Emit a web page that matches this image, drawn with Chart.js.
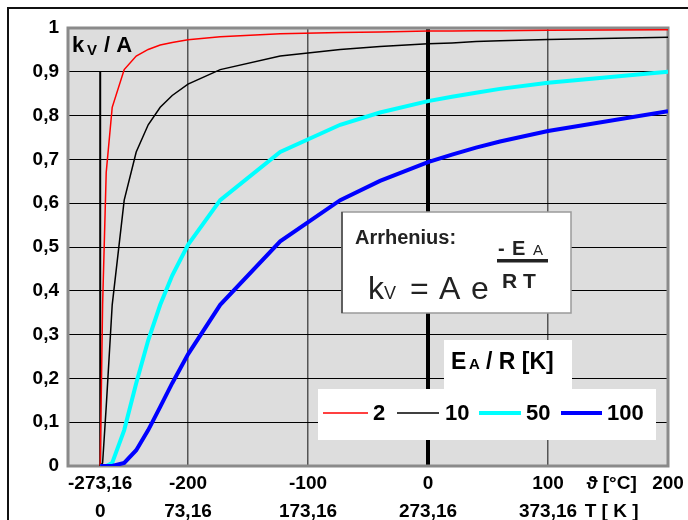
<!DOCTYPE html>
<html>
<head>
<meta charset="utf-8">
<script src="https://cdn.jsdelivr.net/npm/chart.js@4/dist/chart.umd.min.js"></script>
<style>
  html, body { margin: 0; padding: 0; background: #fff; overflow: hidden; }
  canvas { display: block; }
</style>
</head>
<body>
<canvas id="myChart" width="688" height="520"></canvas>
<script>
// temperature in °C of each computed point (T = 0 K ... 473,16 K)
const tempC = [-273.16, -271.16, -268.16, -263.16, -253.16, -243.16, -233.16, -223.16, -213.16, -200,
  -173.16, -123.16, -73.16, -40, 0, 20, 40, 60, 100, 200];

const ea2 = [0, 0.368, 0.67, 0.819, 0.905, 0.936, 0.951, 0.961, 0.967, 0.973,
  0.98, 0.987, 0.99, 0.991, 0.993, 0.993, 0.994, 0.994, 0.995, 0.996];
const ea10 = [0, 0.007, 0.135, 0.368, 0.607, 0.717, 0.779, 0.819, 0.846, 0.872,
  0.905, 0.936, 0.951, 0.958, 0.964, 0.966, 0.969, 0.971, 0.974, 0.979];
const ea50 = [0, 0, 0, 0.007, 0.082, 0.189, 0.287, 0.368, 0.435, 0.505,
  0.607, 0.717, 0.779, 0.807, 0.833, 0.843, 0.852, 0.861, 0.875, 0.9];
const ea100 = [0, 0, 0, 0, 0.007, 0.036, 0.082, 0.135, 0.189, 0.255,
  0.368, 0.513, 0.607, 0.651, 0.694, 0.711, 0.727, 0.741, 0.765, 0.81];

const seriesNames = ['2', '10', '50', '100'];
const seriesColors = ['#ff0000', '#000000', '#00ffff', '#0000ff'];
const seriesWidths = [1.5, 1.5, 4, 4];

// marker line at absolute zero
const zeroKelvinX = [-273.16, -273.16];
const zeroKelvinY = [0, 0.9];

const xTickValues = [-273.16, -200, -100, 0, 100, 153, 200];
const celsiusLabels = ['-273,16', '-200', '-100', '0', '100', 'ϑ [°C]', '200'];
const kelvinLabels = ['0', '73,16', '173,16', '273,16', '373,16', 'T [ K ]', ''];

const FONT = 'Liberation Sans, Arial, sans-serif';

const toPoints = (xs, ys) => xs.map((x, i) => ({ x: x, y: ys[i] }));

const series = [ea2, ea10, ea50, ea100];
const datasets = series.map((vals, i) => ({
  label: seriesNames[i],
  data: toPoints(tempC, vals),
  borderColor: seriesColors[i],
  borderWidth: seriesWidths[i],
  showLine: true,
  pointRadius: 0,
  tension: 0,
  order: 4 - i
}));
datasets.push({
  label: 'abs0',
  data: toPoints(zeroKelvinX, zeroKelvinY),
  borderColor: '#000',
  borderWidth: 2,
  showLine: true,
  pointRadius: 0,
  order: 10
});

const decorations = {
  id: 'decorations',
  beforeDraw(chart) {
    const { ctx, chartArea: a } = chart;
    ctx.save();
    ctx.fillStyle = '#dddddd';
    ctx.fillRect(a.left, a.top, a.right - a.left, a.bottom - a.top);
    // outer frame
    ctx.strokeStyle = '#111';
    ctx.lineWidth = 2;
    ctx.beginPath();
    ctx.moveTo(8, 530);
    ctx.lineTo(8, 8);
    ctx.lineTo(700, 8);
    ctx.stroke();
    ctx.restore();
  },
  beforeDatasetsDraw(chart) {
    const { ctx, chartArea: a } = chart;
    ctx.save();
    ctx.strokeStyle = '#8a8a8a';
    ctx.lineWidth = 3;
    ctx.strokeRect(a.left, a.top, a.right - a.left, a.bottom - a.top);
    ctx.restore();
  },
  afterDraw(chart) {
    const ctx = chart.ctx;
    ctx.save();
    ctx.fillStyle = '#000';
    ctx.textBaseline = 'alphabetic';

    // y title inside the plot
    ctx.font = 'bold 22px ' + FONT;
    ctx.fillText('k', 72, 52);
    ctx.font = 'bold 15px ' + FONT;
    ctx.fillText('V', 87, 55);
    ctx.font = 'bold 22px ' + FONT;
    ctx.fillText('/ A', 104, 52);

    // formula box
    ctx.fillStyle = '#fff';
    ctx.fillRect(342, 212, 229, 101);
    ctx.strokeStyle = '#9a9a9a';
    ctx.lineWidth = 1.5;
    ctx.strokeRect(342, 212, 229, 101);
    ctx.strokeStyle = '#444';
    ctx.beginPath();
    ctx.moveTo(342, 212);
    ctx.lineTo(342, 313);
    ctx.stroke();

    ctx.fillStyle = '#222';
    ctx.font = 'bold 20px ' + FONT;
    ctx.fillText('Arrhenius:', 355, 244);
    ctx.font = '32px ' + FONT;
    ctx.fillText('k', 368, 299);
    ctx.font = '18px ' + FONT;
    ctx.fillText('V', 384, 299);
    ctx.font = '32px ' + FONT;
    ctx.fillText('=', 410, 299);
    ctx.fillText('A', 439, 299);
    ctx.fillText('e', 471, 299);
    ctx.font = 'bold 20px ' + FONT;
    ctx.fillText('-', 498, 255);
    ctx.fillText('E', 512, 255);
    ctx.font = '15px ' + FONT;
    ctx.fillText('A', 533, 255);
    ctx.fillRect(497, 259, 51, 3.5);
    ctx.font = 'bold 21px ' + FONT;
    ctx.fillText('R T', 502, 288);

    // legend
    ctx.fillStyle = '#fff';
    ctx.fillRect(444, 340, 128, 50);
    ctx.fillRect(318, 389, 338, 51);
    ctx.fillStyle = '#000';
    ctx.font = 'bold 23px ' + FONT;
    ctx.fillText('E', 451, 369);
    ctx.font = 'bold 15px ' + FONT;
    ctx.fillText('A', 469, 369);
    ctx.font = 'bold 23px ' + FONT;
    ctx.fillText('/ R [K]', 486, 369);

    const items = [[323, 368, 373], [397, 439, 445], [479, 521, 526], [561, 602, 607]];
    chart.data.datasets.slice(0, 4).forEach((ds, i) => {
      const [x0, x1, tx] = items[i];
      ctx.strokeStyle = ds.borderColor;
      ctx.lineWidth = ds.borderWidth;
      ctx.beginPath();
      ctx.moveTo(x0, 413);
      ctx.lineTo(x1, 413);
      ctx.stroke();
      ctx.fillStyle = '#000';
      ctx.font = 'bold 22px ' + FONT;
      ctx.textBaseline = 'middle';
      ctx.fillText(ds.label, tx, 414);
    });
    ctx.restore();
  }
};

new Chart(document.getElementById('myChart'), {
  type: 'scatter',
  data: { datasets },
  options: {
    responsive: false,
    animation: false,
    devicePixelRatio: 1,
    layout: { padding: { left: 0, top: 28, right: 20, bottom: 0 } },
    plugins: { legend: { display: false }, tooltip: { enabled: false } },
    scales: {
      x: {
        type: 'linear',
        min: -300,
        max: 200,
        afterBuildTicks: scale => { scale.ticks = xTickValues.map(v => ({ value: v })); },
        afterFit: scale => { scale.height = 54; },
        border: { display: false },
        grid: {
          drawTicks: false,
          color: c => {
            const v = c.tick.value;
            if (v === 0) return '#000';
            if (v === -200 || v === -100 || v === 100) return '#555';
            return 'rgba(0,0,0,0)';
          },
          lineWidth: c => (c.tick.value === 0 ? 4 : 1.5)
        },
        ticks: {
          autoSkip: false,
          maxRotation: 0,
          padding: 4,
          color: '#000',
          font: { family: FONT, size: 19, weight: 'bold', lineHeight: 1.45 },
          callback: (value, index) => [celsiusLabels[index], kelvinLabels[index]]
        }
      },
      y: {
        min: 0,
        max: 1,
        afterFit: scale => { scale.width = 68; },
        border: { display: false },
        grid: { drawTicks: false, color: '#000', lineWidth: 1 },
        ticks: {
          stepSize: 0.1,
          padding: 9,
          color: '#000',
          font: { family: FONT, size: 19, weight: 'bold' },
          callback: v => {
            const r = Math.round(v * 10) / 10;
            return r === 0 || r === 1 ? String(r) : r.toFixed(1).replace('.', ',');
          }
        }
      }
    }
  },
  plugins: [decorations]
});
</script>
</body>
</html>
